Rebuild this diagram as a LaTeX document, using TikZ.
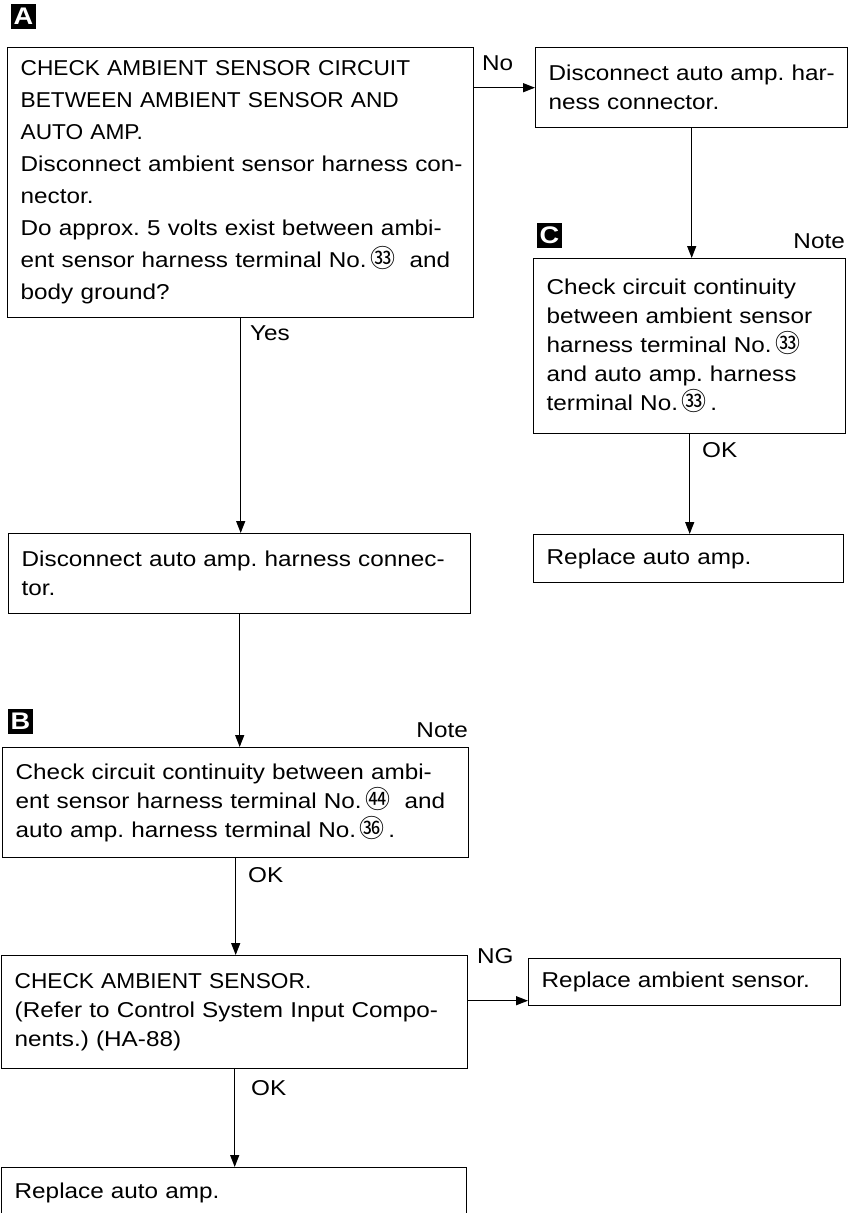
\documentclass[tikz,border=0pt]{standalone}
\usepackage{fontspec}
\setmainfont[FakeStretch=1.13]{Liberation Sans}
\newfontfamily\capsf[FakeStretch=1.055]{Liberation Sans}
\newfontfamily\cjk{Noto Sans CJK SC}
\usetikzlibrary{arrows.meta}
\newcommand{\cn}[1]{{\fontsize{25}{25}\cjk #1}}
\newcommand{\lin}[1]{\mbox{#1}}
\frenchspacing
\begin{document}
\begin{tikzpicture}[x=1pt,y=-1pt,
  box/.style={draw, line width=1.4pt, anchor=north west, inner xsep=13pt, inner ysep=0pt,
    align=left, font=\fontsize{21.5}{29}\selectfont},
  lbl/.style={font=\fontsize{21.5}{26}\selectfont, inner sep=0pt},
  arr/.style={line width=1.3pt, -{Triangle[length=12pt,width=9pt]}},
  badge/.style={fill=black, text=white, minimum size=25pt, inner sep=0pt,
    font=\fontsize{24}{24}\selectfont\bfseries}]
\useasboundingbox (0,0) rectangle (853,1213);

% boxes
\node[box, text width=440pt, minimum height=270pt, font=\fontsize{21.5}{32}\selectfont] (A) at (7,47)
  {\lin{\capsf CHECK AMBIENT SENSOR CIRCUIT}\\
   \lin{\capsf BETWEEN AMBIENT SENSOR AND}\\
   \lin{\capsf AUTO AMP.}\\
   \lin{Disconnect ambient sensor harness con-}\\
   \lin{nector.}\\
   \lin{Do approx. 5 volts exist between ambi-}\\
   \lin{ent sensor harness terminal No.\,\cn{㉝}\ \ and}\\
   \lin{body ground?}};
\node[box, text width=286pt, minimum height=80pt] (N1) at (535,47)
  {\lin{Disconnect auto amp. har-}\\\lin{ness connector.}};
\node[box, text width=286pt, minimum height=175pt] (C) at (533,258)
  {\lin{Check circuit continuity}\\
   \lin{between ambient sensor}\\
   \lin{harness terminal No.\,\cn{㉝}}\\
   \lin{and auto amp. harness}\\
   \lin{terminal No.\,\cn{㉝}\,.}};
\node[box, text width=284pt, minimum height=48pt] (RC) at (533,534) {\lin{Replace auto amp.}};
\node[box, text width=436pt, minimum height=80pt] (D) at (8,533)
  {\lin{Disconnect auto amp. harness connec-}\\\lin{tor.}};
\node[box, text width=440pt, minimum height=110pt] (B) at (2,747)
  {\lin{Check circuit continuity between ambi-}\\
   \lin{ent sensor harness terminal No.\,\cn{㊹}\ \ and}\\
   \lin{auto amp. harness terminal No.\,\cn{㊱}\,.}};
\node[box, text width=440pt, minimum height=113pt] (S) at (1,955)
  {\lin{\capsf CHECK AMBIENT SENSOR.}\\
   \lin{(Refer to Control System Input Compo-}\\
   \lin{nents.) (HA-88)}};
\node[box, text width=286pt, minimum height=47pt] (RS) at (528,958) {\lin{Replace ambient sensor.}};
\node[box, text width=439pt, minimum height=50pt] (F) at (1,1167) {\lin{Replace auto amp.}};

% badges
\node[badge] (bA) at (23.5,16.5) {A};
\node[badge] (bB) at (20.5,721) {B};
\node[badge] (bC) at (549.5,235.5) {C};

% labels
\node[lbl, anchor=west] (lno) at (482,63) {No};
\node[lbl, anchor=west] (lyes) at (250,333) {Yes};
\node[lbl, anchor=west] (lok1) at (702,450) {OK};
\node[lbl, anchor=west] (lok2) at (248,875) {OK};
\node[lbl, anchor=west] (lok3) at (251,1088) {OK};
\node[lbl, anchor=west] (lng) at (477,956) {NG};
\node[lbl, anchor=east] (note1) at (845,241) {Note};
\node[lbl, anchor=east] (note2) at (468,730) {Note};

% connectors
\coordinate (ngpt) at ([yshift=-18.5pt]RS.west);
\draw[arr] (N1.west -| A.east) -- (N1.west);
\draw[arr] (N1.south) -- (N1.south |- C.north);
\draw[arr] (C.south) -- (C.south |- RC.north);
\draw[arr] (A.south) -- (A.south |- D.north);
\draw[arr] (D.south) -- (D.south |- B.north);
\draw[arr] (B.south) -- (B.south |- S.north);
\draw[arr] (ngpt -| S.east) -- (ngpt);
\draw[arr] (S.south) -- (S.south |- F.north);
\end{tikzpicture}
\end{document}
